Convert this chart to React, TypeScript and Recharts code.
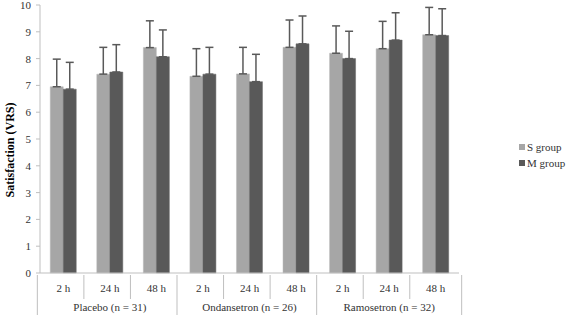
import React from 'react';
import { BarChart, Bar, XAxis, YAxis, ErrorBar, Legend } from 'recharts';

const times = ['2 h', '24 h', '48 h', '2 h', '24 h', '48 h', '2 h', '24 h', '48 h'];
const groups = ['Placebo (n = 31)', 'Ondansetron (n = 26)', 'Ramosetron (n = 32)'];
const sMeans = [6.95, 7.42, 8.41, 7.34, 7.43, 8.42, 8.2, 8.37, 8.89];
const sErr = [1.03, 1.0, 1.0, 1.03, 0.99, 1.02, 1.02, 1.02, 1.02];
const mMeans = [6.86, 7.5, 8.07, 7.42, 7.14, 8.55, 8.0, 8.69, 8.86];
const mErr = [1.0, 1.02, 1.0, 1.0, 1.02, 1.04, 1.02, 1.02, 1.0];
const yTicks = [0, 1, 2, 3, 4, 5, 6, 7, 8, 9, 10];

const data = times.map((t, i) => ({
  key: `${i}`,
  time: t,
  s: sMeans[i],
  sErr: [0, sErr[i]],
  m: mMeans[i],
  mErr: [0, mErr[i]],
}));

const W = 567;
const H = 315;
const LEFT = 40;
const RIGHT = 507;
const TOP = 5;
const AXIS_H = 42;
const band = (RIGHT - LEFT) / times.length;
const axisColor = '#bfbfbf';
const font = "'Liberation Serif', 'Times New Roman', serif";

const TimeTick = (props: any) => {
  const { x, y, index } = props;
  const left = x - band / 2;
  const isGroupStart = index % 3 === 0;
  const isMiddle = index % 3 === 1;
  const parts: React.ReactNode[] = [];
  parts.push(
    <line key="l" x1={left} x2={left} y1={y} y2={isGroupStart ? H : y + 24} stroke={axisColor} />
  );
  if (index === times.length - 1) {
    parts.push(<line key="r" x1={x + band / 2} x2={x + band / 2} y1={y} y2={H} stroke={axisColor} />);
  }
  parts.push(
    <text key="t" x={x} y={y + 17} textAnchor="middle" fill="#333" style={{ fontFamily: font, fontSize: 11 }}>
      {times[index]}
    </text>
  );
  if (isMiddle) {
    parts.push(
      <text key="g" x={x} y={y + 36} textAnchor="middle" fill="#333" style={{ fontFamily: font, fontSize: 11 }}>
        {groups[Math.floor(index / 3)]}
      </text>
    );
  }
  return <g>{parts}</g>;
};

const LegendBox = () => (
  <div style={{ fontFamily: font, fontSize: 11, color: '#333', lineHeight: '16px' }}>
    {[
      { name: 'S group', color: '#a6a6a6' },
      { name: 'M group', color: '#595959' },
    ].map((e) => (
      <div key={e.name} style={{ display: 'flex', alignItems: 'center' }}>
        <span style={{ display: 'inline-block', width: 6, height: 6, background: e.color, marginRight: 2 }} />
        {e.name}
      </div>
    ))}
  </div>
);

const YTitle = (props: any) => {
  const vb = props.viewBox;
  const cy = vb.y + vb.height / 2 + 11;
  return (
    <text
      x={10}
      y={cy}
      transform={`rotate(-90, 10, ${cy})`}
      textAnchor="middle"
      dominantBaseline="central"
      fill="#000"
      style={{ fontFamily: font, fontSize: 12, fontWeight: 'bold' }}
    >
      Satisfaction (VRS)
    </text>
  );
};

export default function App() {
  return (
    <div style={{ position: 'absolute', left: 0, top: 0, background: '#fff', fontFamily: font }}>
      <BarChart
        width={W}
        height={H}
        data={data}
        margin={{ top: TOP, right: W - RIGHT, left: 0, bottom: 0 }}
        barCategoryGap="22%"
        barGap={0}
        style={{ fontFamily: font }}
      >
        <XAxis
          dataKey="key"
          height={AXIS_H}
          tickLine={false}
          tickSize={0}
          axisLine={{ stroke: axisColor }}
          tick={<TimeTick />}
          interval={0}
        />
        <YAxis
          width={LEFT}
          domain={[0, 10]}
          ticks={yTicks}
          interval={0}
          tickSize={4}
          tickMargin={5}
          axisLine={{ stroke: axisColor }}
          tickLine={{ stroke: axisColor }}
          tick={{ fontSize: 11, fill: '#333', style: { fontFamily: font } }}
          label={<YTitle />}
        />
        <Legend
          layout="vertical"
          align="right"
          verticalAlign="middle"
          content={<LegendBox />}
          wrapperStyle={{ right: 0, left: 519, width: 48, top: 139 }}
        />
        <Bar dataKey="s" name="S group" fill="#a6a6a6" stroke="#b8b8b8" strokeWidth={0.5} isAnimationActive={false}>
          <ErrorBar dataKey="sErr" direction="y" width={4} stroke="#595959" strokeWidth={1.5} />
        </Bar>
        <Bar dataKey="m" name="M group" fill="#595959" stroke="#6a6a6a" strokeWidth={0.5} isAnimationActive={false}>
          <ErrorBar dataKey="mErr" direction="y" width={4} stroke="#595959" strokeWidth={1.5} />
        </Bar>
      </BarChart>
    </div>
  );
}
